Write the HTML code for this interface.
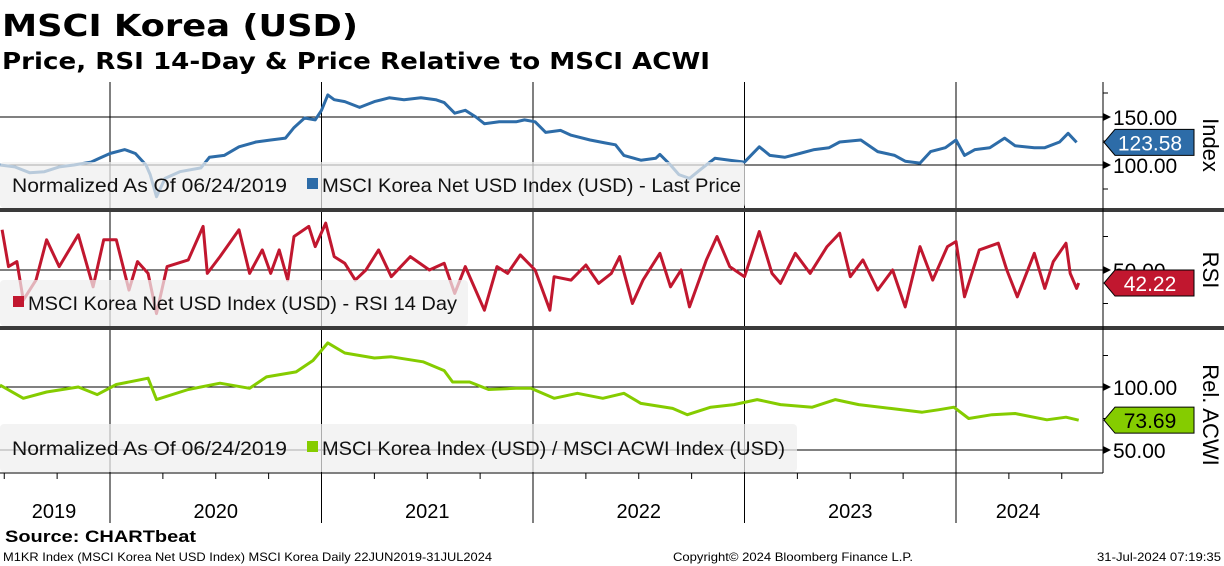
<!DOCTYPE html>
<html><head><meta charset="utf-8"><style>
html,body{margin:0;padding:0;background:#fff;width:1224px;height:566px;overflow:hidden}
svg{display:block;font-family:"Liberation Sans",sans-serif}
</style></head><body>
<svg id="c" width="1224" height="566" viewBox="0 0 1224 566">
<text x="2" y="36" font-size="30" font-weight="bold" font-family="DejaVu Sans, sans-serif" textLength="356" lengthAdjust="spacingAndGlyphs">MSCI Korea (USD)</text>
<text x="2" y="69" font-size="23" font-weight="bold" font-family="DejaVu Sans, sans-serif" textLength="708" lengthAdjust="spacingAndGlyphs">Price, RSI 14-Day &amp; Price Relative to MSCI ACWI</text>
<g id="grid"></g><g id="series"></g><g id="legends"></g><g id="axes"></g>
<text x="5" y="542" font-size="17" font-weight="bold" textLength="191" lengthAdjust="spacingAndGlyphs">Source: CHARTbeat</text>
<text x="3" y="561" font-size="12" textLength="489" lengthAdjust="spacingAndGlyphs">M1KR Index (MSCI Korea Net USD Index) MSCI Korea  Daily 22JUN2019-31JUL2024</text>
<text x="673" y="561" font-size="12" textLength="240" lengthAdjust="spacingAndGlyphs">Copyright© 2024 Bloomberg Finance L.P.</text>
<text x="1097" y="561" font-size="12" textLength="124" lengthAdjust="spacingAndGlyphs">31-Jul-2024 07:19:35</text>
</svg>
<script>
const priceDates=[2019.48,2019.55,2019.62,2019.69,2019.76,2019.83,2019.91,2019.95,2020.00,2020.07,2020.12,2020.17,2020.19,2020.22,2020.26,2020.33,2020.43,2020.47,2020.54,2020.61,2020.69,2020.76,2020.83,2020.87,2020.92,2020.97,2021.00,2021.03,2021.06,2021.11,2021.18,2021.25,2021.32,2021.39,2021.47,2021.54,2021.58,2021.63,2021.68,2021.73,2021.77,2021.84,2021.92,2021.96,2022.01,2022.06,2022.13,2022.18,2022.27,2022.34,2022.39,2022.43,2022.51,2022.58,2022.60,2022.65,2022.69,2022.74,2022.79,2022.86,2022.93,2023.00,2023.07,2023.12,2023.19,2023.26,2023.33,2023.40,2023.45,2023.55,2023.63,2023.71,2023.76,2023.83,2023.88,2023.95,2024.00,2024.04,2024.09,2024.16,2024.23,2024.28,2024.37,2024.42,2024.49,2024.53,2024.57];
const priceValues=[100,98,92,93,98,100,103,107,112,116,112,100,90,67,86,93,97,108,110,119,124,126,128,139,149,147,157,173,168,166,160,166,170,168,170,168,165,154,157,150,143,145,145,147,145,134,136,131,126,123,121,110,105,107,111,100,90,86,95,107,105,103,119,110,108,112,116,118,124,126,114,110,104,102,114,118,126,110,116,118,128,120,118,118,124,133,123.58];
const rsiDates=[2019.49,2019.52,2019.56,2019.59,2019.65,2019.70,2019.76,2019.85,2019.92,2019.97,2020.03,2020.09,2020.13,2020.18,2020.22,2020.27,2020.37,2020.44,2020.46,2020.52,2020.61,2020.66,2020.72,2020.76,2020.80,2020.84,2020.87,2020.94,2020.97,2021.02,2021.06,2021.11,2021.16,2021.21,2021.27,2021.33,2021.42,2021.51,2021.58,2021.63,2021.68,2021.77,2021.83,2021.88,2021.94,2022.01,2022.08,2022.10,2022.18,2022.25,2022.31,2022.37,2022.41,2022.47,2022.52,2022.60,2022.65,2022.70,2022.74,2022.82,2022.87,2022.93,2023.00,2023.07,2023.13,2023.17,2023.24,2023.31,2023.39,2023.45,2023.50,2023.56,2023.63,2023.70,2023.76,2023.83,2023.89,2023.96,2024.00,2024.04,2024.11,2024.20,2024.24,2024.29,2024.37,2024.42,2024.46,2024.52,2024.54,2024.57,2024.58];
const rsiValues=[74,52,55,32,44,68,52,71,40,68,68,38,55,48,24,52,56,76,48,58,74,48,62,48,62,44,70,76,64,78,58,54,44,50,62,46,58,50,54,36,52,26,52,48,59,50,26,46,44,53,42,48,58,30,44,60,40,50,28,56,70,52,46,73,48,42,60,48,64,72,46,56,38,50,28,64,44,64,67,34,62,66,50,34,60,39,55,66,48,39,42.22];
const relDates=[2019.48,2019.59,2019.70,2019.85,2019.94,2020.03,2020.18,2020.22,2020.37,2020.52,2020.66,2020.74,2020.88,2020.96,2021.03,2021.11,2021.25,2021.33,2021.48,2021.58,2021.62,2021.70,2021.79,2021.92,2021.99,2022.10,2022.21,2022.33,2022.43,2022.51,2022.66,2022.73,2022.84,2022.95,2023.06,2023.17,2023.32,2023.43,2023.54,2023.69,2023.84,2023.92,2023.99,2024.06,2024.17,2024.28,2024.43,2024.52,2024.58];
const relValues=[101.6,91,96,100,94,102,107,90,98,103,99,108,112,121,135,127,123,124,120,113,104,104,98,99,99,91,95,91,95,87,83,78,84,86,90,86,84,90,86,83,80,82,84,75,78,79,74,76,73.69];
const yearLabels=["2019","2020","2021","2022","2023","2024"];
const yearStarts=[2020,2021,2022,2023,2024];
const priceTicks=[150,100];
const rsiTicks=[50];
const relTicks=[100,50];

const NS="http://www.w3.org/2000/svg";
function mk(tag,attrs,parent,txt){const e=document.createElementNS(NS,tag);for(const k in attrs)e.setAttribute(k,attrs[k]);if(txt!==undefined)e.textContent=txt;parent.appendChild(e);return e;}
const PX=1103;
const xs=t=>110+(t-2020)*211.5;
const yPrice=v=>117-(v-150)*0.96;
const yRsi=v=>270-(v-50)*1.675;
const yRel=v=>387-(v-100)*1.26;
const grid=document.getElementById('grid'),ser=document.getElementById('series'),leg=document.getElementById('legends'),ax=document.getElementById('axes');

yearStarts.forEach(y=>{
  const l=mk('line',{x1:xs(y),x2:xs(y),y1:82,y2:523,stroke:'#000','stroke-width':1},grid);
  
  
});
[[priceTicks,yPrice,'price'],[rsiTicks,yRsi,'rsi'],[relTicks,yRel,'rel']].forEach(([ticks,f,n])=>{
  ticks.forEach(v=>{
    const l=mk('line',{x1:0,x2:PX,y1:f(v),y2:f(v),stroke:'#000','stroke-width':1},grid);
    
    
  });
});
function line(dates,vals,f,color,name){
  const pts=dates.map((d,i)=>xs(d).toFixed(1)+','+f(vals[i]).toFixed(1)).join(' ');
  const p=mk('polyline',{points:pts,fill:'none',stroke:color,'stroke-width':3,'stroke-linejoin':'round'},ser);
  
  
}
line(priceDates,priceValues,yPrice,'#2d6ca8','price-line');
line(rsiDates,rsiValues,yRsi,'#c1172f','rsi-line');
line(relDates,relValues,yRel,'#85cc00','relative-line');

function legend(x2,y1,y2,items,name){
  const g=mk('g',{},leg);
  
  
  mk('rect',{x:0,y:y1,width:x2,height:y2-y1,rx:4,fill:'rgba(238,238,238,0.72)'},g);
  const ty=(y1+y2)/2+7;
  items.forEach(it=>{
    if(it.sq) mk('rect',{x:it.x,y:ty-14,width:11,height:11,fill:it.sq},g);
    mk('text',{x:it.sq?it.x+15:it.x,y:ty,'font-size':19.5,fill:'#111',textLength:it.w,lengthAdjust:'spacingAndGlyphs'},g,it.t);
  });
}
legend(745,162,208,[{x:12,w:275,t:'Normalized As Of 06/24/2019'},{x:307,w:419,sq:'#2d6ca8',t:'MSCI Korea Net USD Index (USD) - Last Price'}],'price-legend');
legend(468,280,326,[{x:13,w:429,sq:'#c1172f',t:'MSCI Korea Net USD Index (USD) - RSI 14 Day'}],'rsi-legend');
legend(797,424,472,[{x:12,w:275,t:'Normalized As Of 06/24/2019'},{x:307,w:463,sq:'#85cc00',t:'MSCI Korea Index (USD) / MSCI ACWI Index (USD)'}],'relative-legend');

[[208,212],[326,330]].forEach(([a,b],i)=>{
  const r=mk('rect',{x:0,y:a,width:1224,height:b-a,fill:'#3a3a3a'},ax);
  
  
});
const av=mk('line',{x1:PX,x2:PX,y1:82,y2:473,stroke:'#000','stroke-width':1},ax);


const bx=mk('line',{x1:0,x2:PX,y1:473,y2:473,stroke:'#000','stroke-width':1},ax);


for(let q=2019.5;q<2024.75;q+=0.25){
  if(Math.abs(q-Math.round(q))<0.01) continue;
  const t=mk('line',{x1:xs(q),x2:xs(q),y1:473,y2:479,stroke:'#000'},ax);
  
  
}
const bounds=[-2].concat(yearStarts.map(xs)).concat([1080]);
yearLabels.forEach((lab,i)=>{
  const t=mk('text',{x:(bounds[i]+bounds[i+1])/2,y:518,'font-size':20,'text-anchor':'middle'},ax,lab);
  
  
});
function rticks(ticks,f,minor,name){
  ticks.forEach(v=>{
    const y=f(v);
    mk('path',{d:`M${PX},${y-4} L${PX+8},${y} L${PX},${y+4}Z`,fill:'#000'},ax);
    const t=mk('text',{x:1113,y:y+8,'font-size':21},ax,v.toFixed(2));
    
    
  });
  minor.forEach(v=>mk('line',{x1:PX,x2:PX+5,y1:f(v),y2:f(v),stroke:'#000'},ax));
}
rticks(priceTicks,yPrice,[175,125,75],'price');
rticks(rsiTicks,yRsi,[70,30],'rsi');
rticks(relTicks,yRel,[125,75],'rel');
function tag(v,f,fill,tc,name,label){
  const y=f(v);
  const g=mk('g',{},ax);
  
  
  mk('path',{d:`M${PX+1},${y} L${PX+12},${y-13} L1194,${y-13} L1194,${y+13} L${PX+12},${y+13}Z`,fill:fill,stroke:'#000','stroke-width':1},g);
  mk('text',{x:1150,y:y+8,'font-size':21,'text-anchor':'middle',fill:tc},g,label);
}
tag(priceValues[priceValues.length-1],yPrice,'#2d6ca8','#fff','price-last-value-tag','123.58');
tag(rsiValues[rsiValues.length-1],yRsi,'#c1172f','#fff','rsi-last-value-tag','42.22');
tag(relValues[relValues.length-1],yRel,'#85cc00','#000','relative-last-value-tag','73.69');
function atitle(y,txt,name){
  const t=mk('text',{x:0,y:0,'font-size':22,'text-anchor':'middle',transform:`translate(1203,${y}) rotate(90)`},ax,txt);
  
  
}
atitle(145,'Index','price-axis-title');
atitle(270,'RSI','rsi-axis-title');
atitle(415,'Rel. ACWI','relative-axis-title');
</script>
</body></html>
